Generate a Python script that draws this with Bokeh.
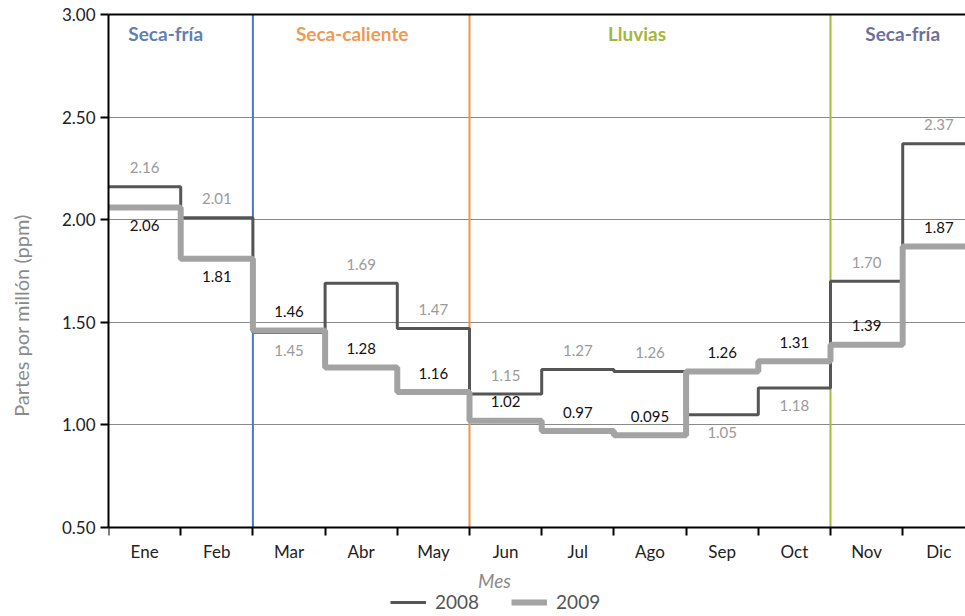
from bokeh.plotting import figure
from bokeh.models import (Range1d, FixedTicker, LinearAxis, Legend,
                          LegendItem, NumeralTickFormatter, CustomJSTickFormatter)
from bokeh.core.properties import value
from bokeh.embed import file_html
from bokeh.resources import INLINE

# ---------------- data ----------------
months = ["Ene", "Feb", "Mar", "Abr", "May", "Jun", "Jul", "Ago", "Sep", "Oct", "Nov", "Dic"]
ppm_2008 = [2.16, 2.01, 1.45, 1.69, 1.47, 1.15, 1.27, 1.26, 1.05, 1.18, 1.70, 2.37]
ppm_2009 = [2.06, 1.81, 1.46, 1.28, 1.16, 1.02, 0.97, 0.95, 1.26, 1.31, 1.39, 1.87]
labels_2008 = ["2.16", "2.01", "1.45", "1.69", "1.47", "1.15", "1.27", "1.26", "1.05", "1.18", "1.70", "2.37"]
labels_2009 = ["2.06", "1.81", "1.46", "1.28", "1.16", "1.02", "0.97", "0.095", "1.26", "1.31", "1.39", "1.87"]
side_2008 = ["up", "up", "down", "up", "up", "up", "up", "up", "down", "down", "up", "up"]
side_2009 = ["down", "down", "up", "up", "up", "up", "up", "up", "up", "up", "up", "up"]
seasons = ["Seca-fría", "Seca-caliente", "Lluvias", "Seca-fría"]
season_start = [0, 2, 5, 10]
season_end = [2, 5, 10, 12]
y_ticks = [0.5, 1.0, 1.5, 2.0, 2.5, 3.0]

# ---------------- styles ----------------
FONT = "Lato"
season_colors = ["#5f80b4", "#ee9a55", "#a4b640", "#6e6f9c"]
season_nudge = [-15, -9, -13, 0]          # horizontal pixel nudges of season names
divider_colors = ["#4a78c8", "#f0964a", "#a2bb40"]
c2008 = "#555555"
c2009 = "#a3a3a3"
PX_PER_UNIT = 205.2      # vertical scale (pixels per ppm)
PX_PER_MONTH = 72.2      # horizontal scale

n = len(months)
y_lo, y_hi = y_ticks[0], y_ticks[-1]
# frame runs from top border to the bottom of the page; axis sits at y_lo
frame_h = 616 - 14
y_start = y_hi - frame_h / PX_PER_UNIT
x_end = (965 - 108) / PX_PER_MONTH

p = figure(width=965, height=616, output_backend="svg", toolbar_location=None,
           x_range=Range1d(0, x_end), y_range=Range1d(y_start, y_hi),
           x_axis_location=None,
           min_border_left=108, min_border_right=0, min_border_top=14,
           min_border_bottom=0)
p.outline_line_color = None
p.background_fill_color = "white"
p.border_fill_color = "white"

# grid
p.xgrid.visible = False
p.ygrid.ticker = FixedTicker(ticks=y_ticks)
p.ygrid.grid_line_color = "#8a8a8a"
p.ygrid.grid_line_width = 1

# y axis
p.yaxis.ticker = FixedTicker(ticks=y_ticks)
p.yaxis.bounds = (y_lo, y_hi)
p.yaxis.formatter = NumeralTickFormatter(format="0.00")
p.yaxis.axis_line_color = "black"
p.yaxis.axis_line_width = 2
p.yaxis.major_tick_line_color = "black"
p.yaxis.major_tick_line_width = 2
p.yaxis.major_tick_out = 8
p.yaxis.major_tick_in = 0
p.yaxis.minor_tick_line_color = None
p.yaxis.major_label_text_font = FONT
p.yaxis.major_label_text_font_size = "17px"
p.yaxis.major_label_text_color = "#222222"
p.yaxis.major_label_standoff = 5
p.yaxis.axis_label = "Partes por millón (ppm)"
p.yaxis.axis_label_text_font = FONT
p.yaxis.axis_label_text_font_size = "20px"
p.yaxis.axis_label_text_font_style = "normal"
p.yaxis.axis_label_text_color = "#8a8a8a"
p.yaxis.axis_label_standoff = 26

# x axis: labels at month centres, ticks at month boundaries
centers = [i + 0.5 for i in range(n)]
bounds = list(range(n + 1))
xaxis = LinearAxis(fixed_location=y_lo,
                   ticker=FixedTicker(ticks=centers, minor_ticks=bounds),
                   formatter=CustomJSTickFormatter(args=dict(m=months),
                                                   code="return m[Math.floor(tick)];"))
xaxis.axis_line_color = "black"
xaxis.axis_line_width = 2
xaxis.major_tick_line_color = None
xaxis.major_tick_out = 0
xaxis.major_tick_in = 0
xaxis.minor_tick_line_color = "black"
xaxis.minor_tick_line_width = 2
xaxis.minor_tick_out = 8
xaxis.minor_tick_in = 0
xaxis.major_label_text_font = FONT
xaxis.major_label_text_font_size = "17px"
xaxis.major_label_text_color = "#222222"
xaxis.major_label_standoff = 5
p.add_layout(xaxis, "below")

# top border as an empty axis
top = LinearAxis(ticker=FixedTicker(ticks=[]), axis_line_color="black",
                 axis_line_width=2, major_tick_line_color=None,
                 minor_tick_line_color=None)
p.add_layout(top, "above")

# season dividers
div_x = season_start[1:]
p.segment(x0=div_x, y0=[y_lo] * len(div_x), x1=div_x, y1=[y_hi] * len(div_x),
          line_color=divider_colors, line_width=2)

# season names
p.text(x=[(s + e) / 2 for s, e in zip(season_start, season_end)], y=[y_hi] * len(seasons),
       text=seasons, text_color=season_colors, text_font=value(FONT),
       text_font_style="bold", text_font_size="19px", text_align="center",
       text_baseline="middle", y_offset=19, x_offset=season_nudge)

# step lines
y08 = ppm_2008 + [ppm_2008[-1]]
y09 = ppm_2009 + [ppm_2009[-1]]
r08 = p.step(x=bounds, y=y08, mode="after", line_color=c2008, line_width=3)
r09 = p.step(x=bounds, y=y09, mode="after", line_color=c2009, line_width=6)

# value labels
def offs(sides):
    return [-19 if s == "up" else 18 for s in sides]

p.text(x=centers, y=ppm_2008, text=labels_2008, text_color="#9a9a9a",
       text_font=value(FONT), text_font_size="15px", text_align="center",
       text_baseline="middle", y_offset=offs(side_2008))
p.text(x=centers, y=ppm_2009, text=labels_2009, text_color="#111111",
       text_font=value(FONT), text_font_size="15px", text_align="center",
       text_baseline="middle", y_offset=offs(side_2009))

# x axis title (drawn below the axis, inside the frame)
p.text(x=[(494 - 108) / PX_PER_MONTH], y=[y_lo], text=["Mes"], text_font=value(FONT),
       text_font_size="19px", text_font_style="italic", text_color="#8a8a8a",
       text_align="center", text_baseline="middle", y_offset=53)

# legend
legend = Legend(items=[LegendItem(label="2008", renderers=[r08]),
                       LegendItem(label="2009", renderers=[r09])],
                orientation="horizontal", location=(282, 3),
                glyph_width=36, glyph_height=18, label_standoff=9, spacing=32,
                padding=0, margin=0,
                label_text_font=FONT, label_text_font_size="19px",
                label_text_color="#555555", border_line_alpha=0,
                background_fill_alpha=0)
p.add_layout(legend, "center")

open("out.html", "w").write(file_html(p, INLINE))
